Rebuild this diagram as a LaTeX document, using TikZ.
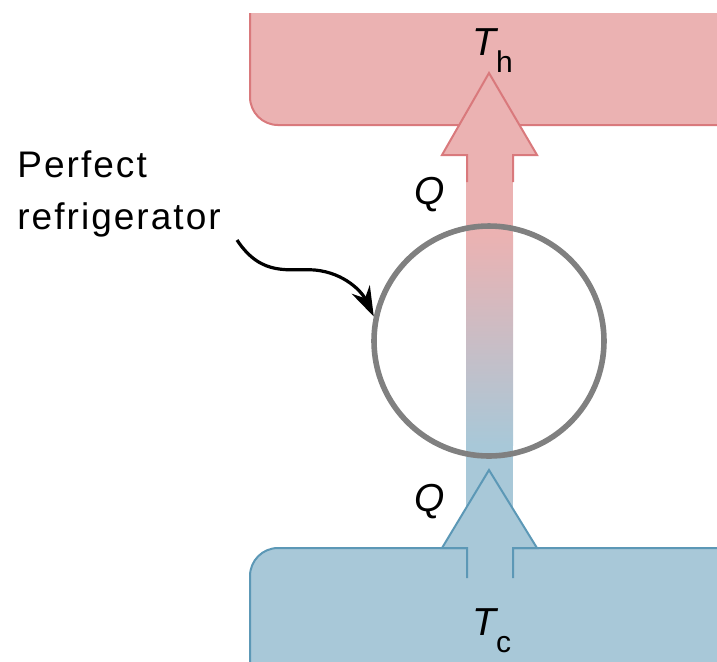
\documentclass[tikz,border=0pt]{standalone}
\usepackage{fontspec}
\setmainfont{Liberation Sans}
\newfontfamily\etichettafont[LetterSpace=5.5]{Liberation Sans}
\usetikzlibrary{arrows.meta}
\definecolor{rosa}{RGB}{235,178,178}
\definecolor{rosabordo}{RGB}{217,121,124}
\definecolor{azzurro}{RGB}{168,200,216}
\definecolor{azzurrobordo}{RGB}{92,152,182}
\definecolor{grigio}{RGB}{128,128,128}
\newcommand\pedicefont{\fontsize{15}{15}\selectfont\upshape}
\tikzset{
  simbolo/.style={font=\fontsize{19.5}{20}\selectfont\itshape, inner sep=0pt},
  anello/.style={circle, draw=grigio, line width=2.8pt, minimum size=115pt, inner sep=0pt},
  etichetta/.style={font=\etichettafont\fontsize{18.5}{26}\selectfont, align=left, inner sep=0pt}
}
\begin{document}
\begin{tikzpicture}[x=0.5pt,y=-0.5pt]
    \useasboundingbox (0,0) rectangle (717,661);
    \clip (0,0) rectangle (717,661);
    %serbatoio caldo
    \begin{scope}
        \clip (0,13) rectangle (717,661);
        \draw[fill=rosa, draw=rosabordo, line width=1pt, rounded corners=14pt](250,-40)rectangle(770,125);
    \end{scope}
    %condotto con sfumatura
    \fill[rosa](466,150)rectangle(513,236);
    \shade[top color=rosa, bottom color=azzurro](466,235)rectangle(513,445);
    \fill[azzurro](466,444)rectangle(513,560);
    %freccia verso il caldo
    \draw[fill=rosa, draw=rosabordo, line width=1pt](467,182)--(467,155)--(442,155)--(489,73)--(537,155)--(513,155)--(513,182);
    %serbatoio freddo
    \draw[fill=azzurro, draw=azzurrobordo, line width=1pt, rounded corners=14pt](250,548)rectangle(770,720);
    %freccia dal freddo
    \draw[fill=azzurro, draw=azzurrobordo, line width=1pt](467,578)--(467,548)--(442,548)--(489,470)--(537,548)--(513,548)--(513,578);
    %frigorifero
    \node[anello] (fridge) at (489,341) {};
    %scritte
    \node[simbolo, anchor=base west] (Th) at (472,55) {T\raisebox{-8.5pt}{\pedicefont h}};
    \node[simbolo, anchor=base west] (Tc) at (472,635) {T\raisebox{-8.5pt}{\pedicefont c}};
    \node[simbolo, anchor=base west] (Qh) at (414,204) {Q};
    \node[simbolo, anchor=base west] (Qc) at (414,511) {Q};
    \node[etichetta, anchor=north west] (frigo) at (17,150) {Perfect\\refrigerator};
    %freccia ondulata
    \coordinate (coda) at (237,240);
    \draw[-{Stealth[length=15pt, width=10pt]}, line width=1.6pt](coda) .. controls (262,278) and (290,268) .. (315,270) .. controls (345,273) and (362,292) .. (fridge.168);
\end{tikzpicture}
\end{document}
